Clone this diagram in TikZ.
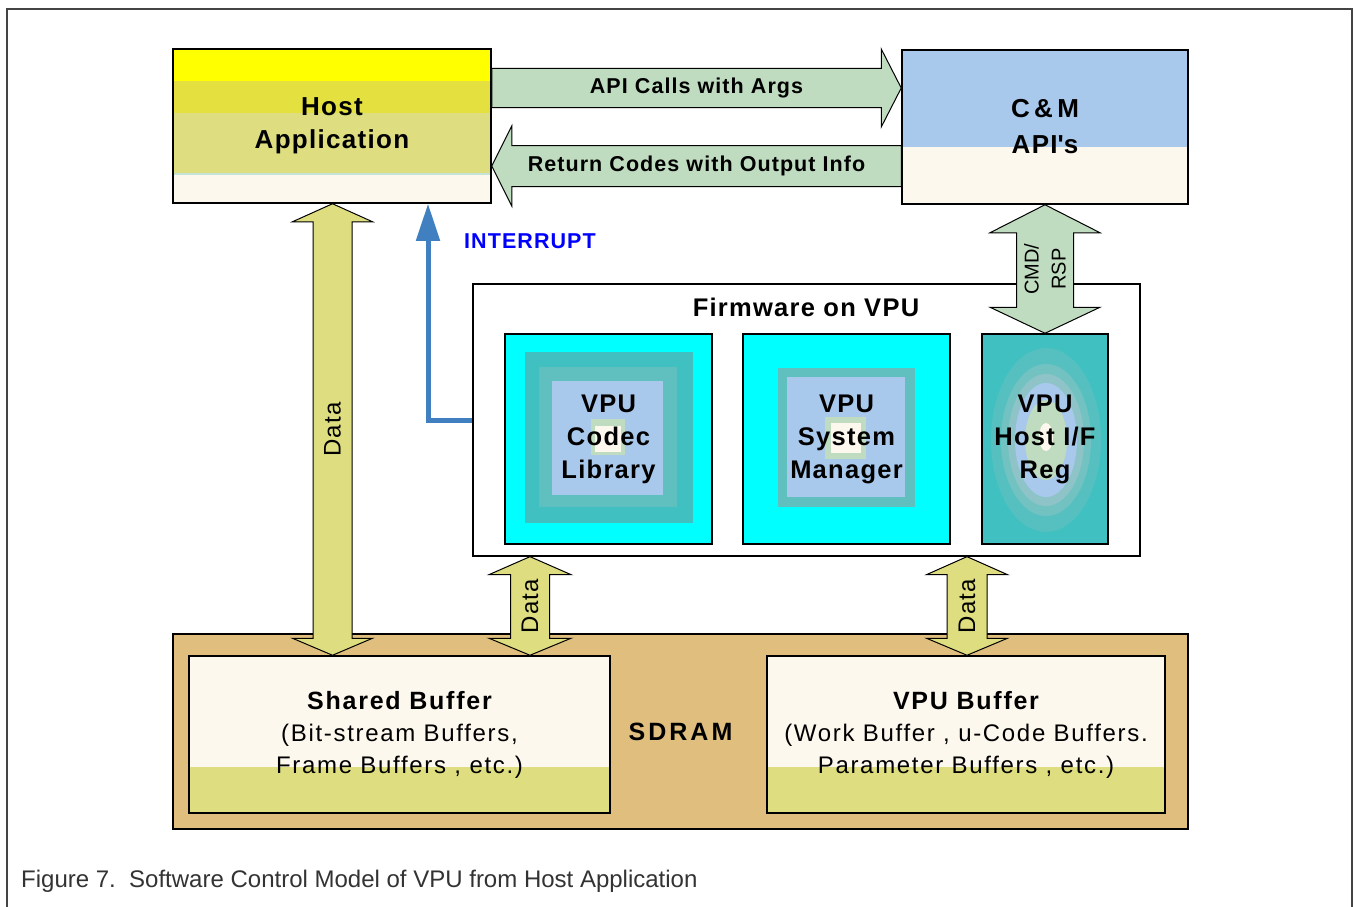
\documentclass[tikz,border=0pt]{standalone}
\usepackage{fontspec}
\setmainfont[LetterSpace=5]{Liberation Sans}
\newfontfamily\capfont{Liberation Sans}
\newfontfamily\widefont[LetterSpace=7]{Liberation Sans}
\usetikzlibrary{calc,arrows.meta}

\definecolor{hyel}{HTML}{FFFF00}
\definecolor{holive}{HTML}{E3E03F}
\definecolor{hkhaki}{HTML}{DEDE80}
\definecolor{hmint}{HTML}{C4E4D8}
\definecolor{cream}{HTML}{FDF8EE}
\definecolor{apiblue}{HTML}{A8C8EC}
\definecolor{flowgreen}{HTML}{C0DCC0}
\definecolor{sdtan}{HTML}{DFBE7E}
\definecolor{aqua}{HTML}{00FFFF}
\definecolor{tealA}{HTML}{40C0C0}
\definecolor{tealB}{HTML}{60C0C0}
\definecolor{ringA}{HTML}{56C0C0}
\definecolor{ringB}{HTML}{72C2C2}
\definecolor{ringC}{HTML}{8EC4C8}
\definecolor{irqblue}{HTML}{4080C0}
\definecolor{irqtext}{HTML}{0000FF}
\definecolor{framegray}{HTML}{444444}
\definecolor{captxt}{HTML}{333333}

\newcommand{\fsz}[2]{\fontsize{#1}{#2}\selectfont}

% horizontal block arrows: tail, tip, shaft half width, head half width, head length, style
\newcommand{\rightblock}[6]{%
  \draw[#6] let \p1=(#1), \p2=(#2) in
    (\x1,\y1+#3) -- (\x2-#5,\y1+#3) -- (\x2-#5,\y1+#4) -- (\x2,\y1)
    -- (\x2-#5,\y1-#4) -- (\x2-#5,\y1-#3) -- (\x1,\y1-#3) -- cycle;}
\newcommand{\leftblock}[6]{%
  \draw[#6] let \p1=(#1), \p2=(#2) in
    (\x1,\y1+#3) -- (\x2+#5,\y1+#3) -- (\x2+#5,\y1+#4) -- (\x2,\y1)
    -- (\x2+#5,\y1-#4) -- (\x2+#5,\y1-#3) -- (\x1,\y1-#3) -- cycle;}
% vertical two-headed block arrow: top tip, bottom tip, shaft half, head half,
% top head length, bottom head length, style
\newcommand{\vdouble}[7]{%
  \draw[#7] let \p1=(#1), \p2=(#2) in
    (\x1,\y1) -- (\x1+#4,\y1-#5) -- (\x1+#3,\y1-#5) -- (\x1+#3,\y2+#6)
    -- (\x1+#4,\y2+#6) -- (\x1,\y2) -- (\x1-#4,\y2+#6) -- (\x1-#3,\y2+#6)
    -- (\x1-#3,\y1-#5) -- (\x1-#4,\y1-#5) -- cycle;}

\tikzset{
  box/.style={draw=black, line width=1.5pt, inner sep=0pt, align=center},
  bigbold/.style={font=\bfseries\fsz{26}{33}},
  vpubold/.style={font=\bfseries\fsz{25.5}{33}},
  flowgreenarrow/.style={fill=flowgreen, draw=black, line width=1pt},
  dataarrow/.style={fill=hkhaki, draw=black, line width=1pt},
  flowtext/.style={font=\bfseries\fsz{21.5}{21.5}},
  datatext/.style={rotate=90, font=\fsz{24}{24}},
  irq/.style={draw=irqblue, line width=5pt,
    -{Triangle[length=37pt,width=23pt]}},
}

\begin{document}
\begin{tikzpicture}[x=1pt,y=-1pt]
\useasboundingbox (0,0) rectangle (1354,907);
\fill[white] (0,0) rectangle (1354,907);
\draw[framegray, line width=2pt] (7,907) -- (7,9) -- (1352,9) -- (1352,907);

% ---------- Host application ----------
\fill[hyel]   (173,50)  rectangle (491,81);
\fill[holive] (173,81)  rectangle (491,113);
\fill[hkhaki] (173,113) rectangle (491,173);
\fill[hmint]  (173,173) rectangle (491,175);
\fill[cream]  (173,175) rectangle (491,204);
\node[box, bigbold, minimum width=318pt, minimum height=154pt] (host) at (332,126)
  {Host\\Application};

% ---------- C&M APIs ----------
\fill[apiblue] (902,50)  rectangle (1188,147);
\fill[cream]   (902,147) rectangle (1188,204);
\node[box, font=\bfseries\fsz{26}{36}, minimum width=286pt, minimum height=154pt] (cm) at (1045,127)
  {C\,\&\,M\\API\textquotesingle s};

% ---------- SDRAM ----------
\node[box, fill=sdtan, font=\bfseries\fsz{25}{25}\addfontfeatures{LetterSpace=12}, minimum width=1015pt, minimum height=195pt]
  (sdram) at (680.5,731.5) {SDRAM};

\fill[cream]  (189,656) rectangle (610,767);
\fill[hkhaki] (189,767) rectangle (610,813);
\node[box, font=\widefont\fsz{24}{32}, minimum width=421pt, minimum height=157pt] (shared) at (399.5,734.5)
  {{\bfseries\fsz{25}{32}Shared Buffer}\\(Bit-stream Buffers,\\Frame Buffers , etc.)};

\fill[cream]  (767,656) rectangle (1165,767);
\fill[hkhaki] (767,767) rectangle (1165,813);
\node[box, font=\widefont\fsz{24}{32}, minimum width=398pt, minimum height=157pt] (vbuf) at (966,734.5)
  {{\bfseries\fsz{25}{32}VPU Buffer}\\(Work Buffer , u-Code Buffers.\\Parameter Buffers , etc.)};

% ---------- Firmware on VPU ----------
\node[box, line width=1.3pt, minimum width=667pt, minimum height=272pt] (fw) at (806.5,420) {};
\node[font=\bfseries\fsz{25.5}{25.5}] (fwtitle) at (806,307) {Firmware on VPU};

% codec library: nested squares
\fill[aqua]      (505,334) rectangle (712,544);
\fill[tealA]     (525,352) rectangle (693,523);
\fill[tealB]     (539,367) rectangle (677,507);
\fill[apiblue]   (552,381) rectangle (663,495);
\fill[flowgreen] (591,419) rectangle (625,455);
\fill[cream]     (595,426) rectangle (621,452);
\node[box, vpubold, minimum width=207pt, minimum height=210pt] (codec) at (608.5,439)
  {VPU\\Codec\\Library};

% system manager: nested squares
\fill[aqua]      (743,334) rectangle (950,544);
\fill[tealB]     (778,368) rectangle (915,507);
\fill[apiblue]   (787,377) rectangle (905,497);
\fill[flowgreen] (825,417) rectangle (866,459);
\fill[cream]     (831,423) rectangle (861,453);
\node[box, vpubold, minimum width=207pt, minimum height=210pt] (sysm) at (846.5,439)
  {VPU\\System\\Manager};

% host interface registers: concentric ellipses
\fill[tealA]     (982,334) rectangle (1108,544);
\fill[ringA]     (1046,440) ellipse [x radius=55pt, y radius=92pt];
\fill[ringB]     (1046,440) ellipse [x radius=45pt, y radius=76pt];
\fill[ringC]     (1046,440) ellipse [x radius=38pt, y radius=66pt];
\fill[apiblue]   (1046,440) ellipse [x radius=31pt, y radius=57pt];
\fill[flowgreen] (1046,440) ellipse [x radius=21pt, y radius=40pt];
\fill[cream]     (1046,437) ellipse [x radius=7pt, y radius=14pt];
\node[box, vpubold, minimum width=126pt, minimum height=210pt] (hif) at (1045,439)
  {VPU\\Host I/F\\Reg};

% ---------- API call / return arrows ----------
\coordinate (apiS) at (host.east |- 0,88);
\coordinate (apiE) at (cm.west |- 0,88);
\rightblock{apiS}{apiE}{19.5pt}{39pt}{20pt}{flowgreenarrow}
\node[flowtext] (apilbl) at ($(apiS)!0.5!(apiE)$) {API Calls with Args};

\coordinate (retS) at (cm.west |- 0,166);
\coordinate (retE) at (host.east |- 0,166);
\leftblock{retS}{retE}{20.5pt}{40pt}{20pt}{flowgreenarrow}
\node[flowtext] (retlbl) at ($(retS)!0.5!(retE)$) {Return Codes with Output Info};

% ---------- command / response ----------
\vdouble{cm.south}{hif.north}{28.5pt}{55pt}{28pt}{26pt}{flowgreenarrow}
\node[rotate=90, align=center, font=\capfont\fsz{20}{27}] (cmdlbl) at ($(cm.south)!0.5!(hif.north)$)
  {CMD/\\RSP};

% ---------- data paths ----------
\coordinate (d1t) at (host.south -| 332.5,0);
\coordinate (d1b) at (shared.north -| 332.5,0);
\vdouble{d1t}{d1b}{19.5pt}{40pt}{18pt}{17pt}{dataarrow}
\node[datatext] (d1lbl) at ($(d1t)!0.5!(d1b)$) {Data};

\coordinate (d2t) at (fw.south -| 530,0);
\coordinate (d2b) at (shared.north -| 530,0);
\vdouble{d2t}{d2b}{19.5pt}{41pt}{18pt}{17pt}{dataarrow}
\node[datatext] (d2lbl) at ($(d2t)!0.5!(d2b)$) {Data};

\coordinate (d3t) at (fw.south -| 967,0);
\coordinate (d3b) at (vbuf.north -| 967,0);
\vdouble{d3t}{d3b}{20pt}{40.5pt}{18pt}{17pt}{dataarrow}
\node[datatext] (d3lbl) at ($(d3t)!0.5!(d3b)$) {Data};

% ---------- interrupt ----------
\draw[irq] (fw.west) -| (host.south -| 428,0);
\node[font=\bfseries\fsz{21.5}{21.5}, text=irqtext] (irqlbl) at (530,241) {INTERRUPT};

% ---------- caption ----------
\node[anchor=west, font=\capfont\fsz{24}{24}, text=captxt, inner sep=0pt] (caption) at (21,881)
  {Figure 7.\ \ Software Control Model of VPU from Host Application};
\end{tikzpicture}
\end{document}
